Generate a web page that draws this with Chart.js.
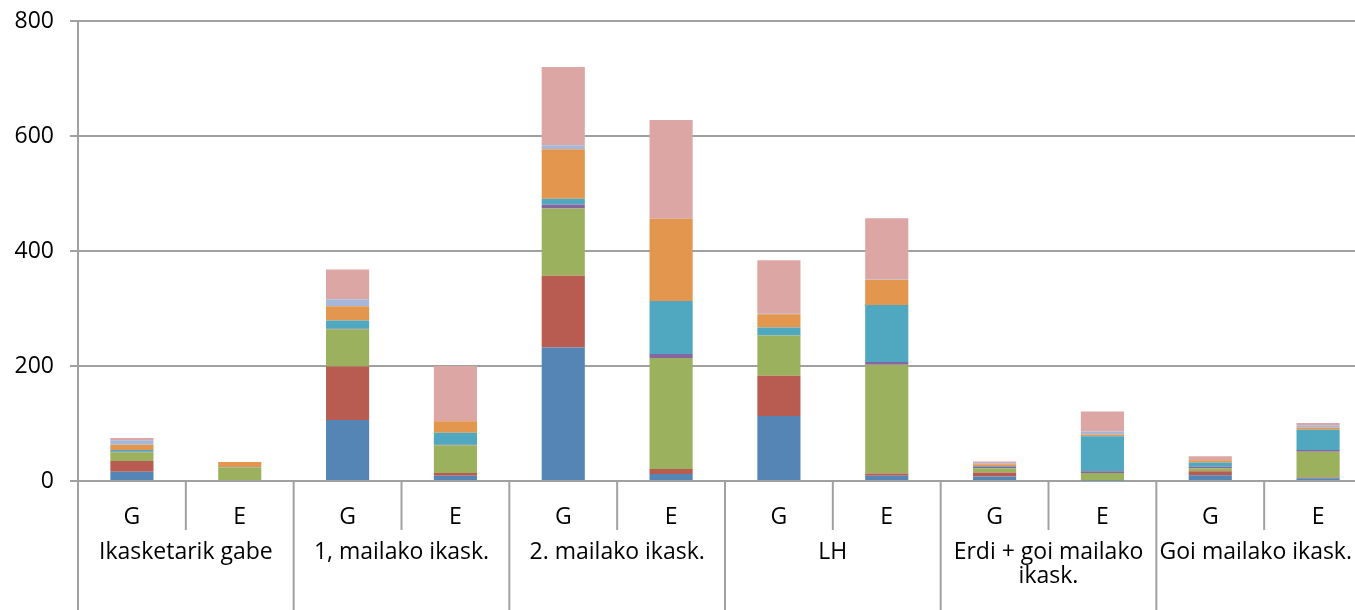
<!DOCTYPE html>
<html>
<head>
<meta charset="utf-8">
<script src="https://cdn.jsdelivr.net/npm/chart.js@4.4.1/dist/chart.umd.min.js"></script>
<style>
  html, body { margin: 0; padding: 0; background: #fff; overflow: hidden; }
  #wrap { width: 1372px; height: 610px; }
</style>
</head>
<body>
<div id="wrap"><canvas id="chart" width="1372" height="610"></canvas></div>
<script>
// categories: G / E inside each education level
const subLabels = ['G', 'E', 'G', 'E', 'G', 'E', 'G', 'E', 'G', 'E', 'G', 'E'];
const groupLabels = [
  'Ikasketarik gabe',
  '1, mailako ikask.',
  '2. mailako ikask.',
  'LH',
  'Erdi + goi mailako\nikask.',
  'Goi mailako ikask.',
];

// stacked series, bottom to top
const serie1 = [16, 0, 106, 9, 232, 12, 113, 9, 8, 1, 10, 5];
const serie2 = [19, 0, 93, 5, 125, 9, 70, 4, 7, 0, 7, 1];
const serie3 = [15, 23, 65, 48, 117, 193, 70, 189, 7, 13, 5, 45];
const serie4 = [1, 0, 1, 1, 7, 7, 0, 5, 3, 3, 3, 3];
const serie5 = [3, 1, 14, 21, 10, 92, 14, 99, 1, 61, 7, 35];
const serie6 = [9, 9, 25, 20, 86, 143, 23, 44, 3, 3, 4, 4];
const serie7 = [8, 0, 12, 0, 7, 0, 1, 1, 2, 5, 0, 4];
const serie8 = [4, 0, 52, 96, 136, 172, 93, 106, 3, 35, 7, 4];

const yTicks = [0, 200, 400, 600, 800];

const COLORS = ['#5585B5', '#B85C52', '#9BB15E', '#8466A0', '#4FA8C0', '#E3964D', '#A5B7D9', '#DCA6A4'];
const GRID = '#A0A0A0';
const FONT = { family: 'Open Sans', size: 23 };
const VIEW_RIGHT = 1352; // window is narrower than the canvas

const series = [serie1, serie2, serie3, serie4, serie5, serie6, serie7, serie8];

/** Draws the two-level category axis: dividers and group names */
const groupAxis = {
  id: 'groupAxis',
  afterDraw(chart) {
    const ctx = chart.ctx;
    const x = chart.scales.x;
    const top = chart.chartArea.bottom;
    const slot = x.getPixelForValue(1) - x.getPixelForValue(0);
    ctx.save();
    ctx.strokeStyle = GRID;
    ctx.lineWidth = 2;
    for (let i = 0; i <= subLabels.length; i++) {
      const px = x.getPixelForValue(i) - slot / 2;
      const len = i % 2 === 0 ? 129 : 49;
      ctx.beginPath();
      ctx.moveTo(px, top);
      ctx.lineTo(px, top + len);
      ctx.stroke();
    }
    ctx.fillStyle = '#000';
    ctx.font = FONT.size + 'px ' + FONT.family;
    ctx.textAlign = 'center';
    ctx.textBaseline = 'middle';
    groupLabels.forEach((g, i) => {
      const cx = (x.getPixelForValue(2 * i) + x.getPixelForValue(2 * i + 1)) / 2;
      g.split('\n').forEach((line, j) => {
        const w = ctx.measureText(line).width;
        const lx = Math.min(cx, VIEW_RIGHT - w / 2);
        ctx.fillText(line, lx, top + 71 + j * 24);
      });
    });
    ctx.restore();
  },
};

new Chart(document.getElementById('chart'), {
  type: 'bar',
  data: {
    labels: subLabels,
    datasets: series.map((d, i) => ({
      label: 'Serie ' + (i + 1),
      data: d,
      backgroundColor: COLORS[i],
      borderWidth: 0,
      barPercentage: 0.4,
      categoryPercentage: 1,
    })),
  },
  options: {
    responsive: false,
    animation: false,
    layout: { padding: 0 },
    plugins: { legend: { display: false }, tooltip: { enabled: false } },
    scales: {
      x: {
        stacked: true,
        grid: { display: false },
        border: { display: false },
        ticks: { color: '#000', font: FONT, padding: 15, maxRotation: 0 },
        afterFit: s => { s.height = 129; },
      },
      y: {
        stacked: true,
        min: 0,
        max: 800,
        afterBuildTicks: s => { s.ticks = yTicks.map(v => ({ value: v })); },
        grid: { color: GRID, lineWidth: 2, tickLength: 8 },
        border: { color: GRID, width: 2 },
        ticks: { color: '#000', font: FONT, padding: 16 },
        afterFit: s => {
          s.width = 78;
          s.paddingTop = 21;
          s.paddingBottom = 0;
        },
      },
    },
  },
  plugins: [groupAxis],
});
</script>
</body>
</html>
